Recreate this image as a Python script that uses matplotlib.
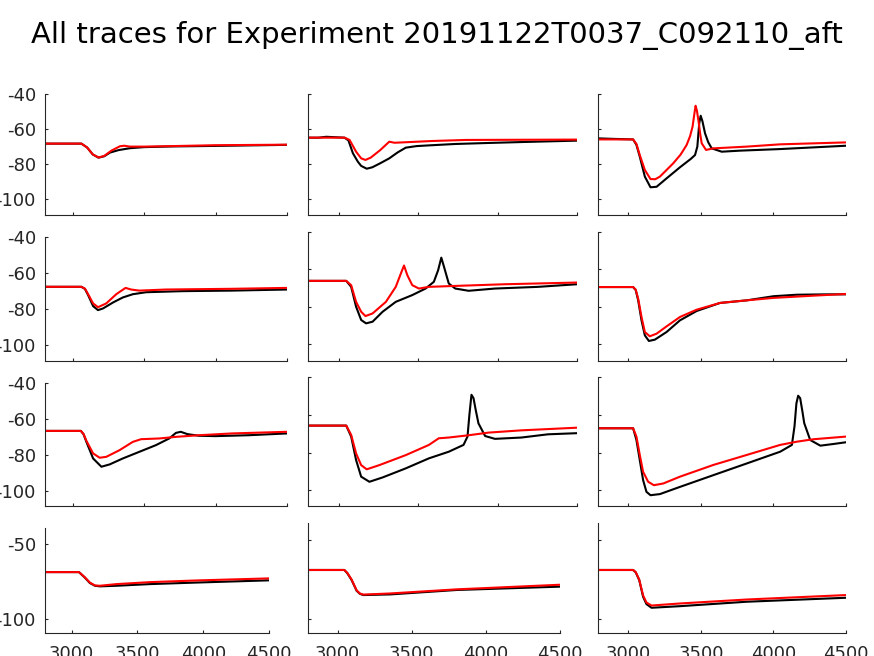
import matplotlib
matplotlib.use("Agg")
import matplotlib.pyplot as plt

TITLE = "All traces for Experiment 20191122T0037_C092110_aft"
XTICKS = [3000, 3500, 4000, 4500]
YTICKS_TOP = [-100, -80, -60, -40]
YTICKS_BOTTOM = [-100, -50]

# ---- traces (time, membrane potential) ----
# row 1
t_r1c1_k = [2805, 3060, 3100, 3140, 3180, 3220, 3260, 3320, 3400, 3500, 3700, 4000, 4500]
v_r1c1_k = [-68.3, -68.3, -70.5, -74.5, -76.3, -75.5, -73.4, -72.0, -70.9, -70.3, -69.9, -69.6, -69.0]
t_r1c1_r = [2805, 3060, 3100, 3140, 3180, 3220, 3270, 3330, 3360, 3400, 3500, 3700, 4000, 4500]
v_r1c1_r = [-68.3, -68.3, -70.5, -74.5, -76.2, -75.3, -72.3, -69.8, -69.5, -70.0, -70.0, -69.7, -69.2, -68.9]

t_r1c2_k = [2805, 2870, 2920, 3035, 3060, 3088, 3119, 3140, 3175, 3210, 3260, 3317, 3370, 3421, 3490, 3567, 3733, 3950, 4150, 4500]
v_r1c2_k = [-64.9, -64.9, -64.4, -64.9, -66.5, -73.8, -78.6, -81.0, -82.6, -81.8, -79.5, -76.7, -73.3, -70.6, -69.7, -69.3, -68.5, -67.9, -67.4, -66.6]
t_r1c2_r = [2805, 3035, 3067, 3108, 3140, 3167, 3200, 3260, 3317, 3350, 3400, 3587, 3800, 4500]
v_r1c2_r = [-64.9, -64.9, -66.2, -72.9, -76.7, -77.6, -76.3, -72.0, -67.2, -67.8, -67.6, -66.8, -66.2, -66.0]

t_r1c3_k = [2790, 2900, 3032, 3055, 3078, 3113, 3152, 3194, 3263, 3355, 3430, 3459, 3475, 3488, 3498, 3510, 3528, 3550, 3574, 3643, 3770, 4046, 4500]
v_r1c3_k = [-65.3, -65.6, -65.9, -69.0, -75.7, -87.1, -93.2, -92.9, -88.1, -81.8, -77.0, -74.8, -70.0, -56.7, -52.4, -55.5, -62.4, -67.5, -71.0, -72.9, -72.3, -71.4, -69.5]
t_r1c3_r = [2790, 3032, 3055, 3078, 3113, 3152, 3185, 3217, 3309, 3360, 3401, 3425, 3442, 3455, 3463, 3472, 3482, 3495, 3505, 3535, 3585, 3816, 4046, 4500]
v_r1c3_r = [-65.9, -65.9, -68.5, -74.8, -83.3, -88.5, -88.6, -87.1, -79.5, -74.5, -69.1, -64.0, -58.6, -51.0, -46.7, -49.5, -54.8, -63.0, -68.1, -71.9, -71.0, -70.0, -68.7, -67.6]

# row 2
t_r2c1_k = [2805, 3060, 3085, 3107, 3142, 3176, 3211, 3281, 3350, 3420, 3513, 3768, 4116, 4500]
v_r2c1_k = [-67.6, -67.6, -68.8, -72.2, -78.3, -80.5, -79.6, -76.3, -73.5, -71.7, -70.6, -70.0, -69.7, -69.1]
t_r2c1_r = [2805, 3060, 3085, 3107, 3142, 3176, 3234, 3304, 3369, 3408, 3466, 3652, 4116, 4500]
v_r2c1_r = [-67.6, -67.6, -68.6, -71.7, -76.8, -78.9, -76.8, -71.7, -68.2, -69.1, -69.7, -69.1, -68.7, -68.2]

t_r2c2_k = [2805, 3046, 3077, 3108, 3140, 3171, 3212, 3275, 3358, 3462, 3546, 3598, 3625, 3645, 3662, 3692, 3733, 3817, 3983, 4254, 4500]
v_r2c2_k = [-66.1, -66.1, -69.3, -79.9, -87.0, -88.8, -87.9, -82.6, -77.3, -73.7, -70.2, -66.6, -60.4, -53.7, -58.6, -67.5, -70.2, -71.4, -70.2, -69.3, -67.9]
t_r2c2_r = [2805, 3046, 3077, 3108, 3140, 3167, 3212, 3296, 3358, 3390, 3410, 3431, 3462, 3504, 3567, 3733, 4046, 4500]
v_r2c2_r = [-66.1, -66.1, -68.4, -77.3, -82.6, -84.9, -83.5, -77.3, -69.3, -62.2, -57.9, -63.1, -68.4, -70.2, -69.3, -68.8, -67.9, -67.0]

t_r2c3_k = [2790, 3032, 3050, 3067, 3090, 3113, 3141, 3182, 3263, 3355, 3470, 3631, 3816, 4000, 4161, 4369, 4500]
v_r2c3_k = [-69.4, -69.4, -71.0, -76.5, -87.2, -95.2, -98.2, -97.5, -93.4, -87.2, -82.2, -77.9, -76.5, -74.3, -73.5, -73.3, -73.3]
t_r2c3_r = [2790, 3032, 3050, 3067, 3090, 3113, 3147, 3194, 3263, 3355, 3470, 3631, 3816, 4000, 4276, 4500]
v_r2c3_r = [-69.4, -69.4, -70.8, -75.6, -85.4, -93.4, -95.7, -94.3, -90.4, -85.4, -81.5, -77.9, -76.5, -75.2, -74.0, -73.1]

# row 3
t_r3c1_k = [2805, 3056, 3075, 3095, 3142, 3200, 3258, 3350, 3466, 3582, 3675, 3722, 3756, 3803, 3884, 4000, 4232, 4500]
v_r3c1_k = [-66.6, -66.6, -68.5, -72.7, -81.9, -86.5, -85.2, -81.9, -78.2, -74.5, -70.8, -67.7, -67.1, -68.4, -69.3, -69.5, -69.0, -68.0]
t_r3c1_r = [2805, 3056, 3075, 3095, 3142, 3188, 3234, 3327, 3420, 3478, 3606, 3722, 3884, 4116, 4500]
v_r3c1_r = [-66.6, -66.6, -68.3, -72.1, -79.1, -81.5, -81.0, -77.3, -72.7, -71.2, -70.8, -69.9, -69.0, -68.0, -67.1]

t_r3c2_k = [2805, 3046, 3077, 3108, 3140, 3192, 3275, 3421, 3567, 3692, 3785, 3810, 3822, 3835, 3848, 3862, 3879, 3921, 3983, 4150, 4317, 4500]
v_r3c2_k = [-65.7, -65.7, -71.5, -83.9, -92.7, -95.4, -93.1, -88.3, -83.0, -79.5, -75.9, -71.5, -60.0, -49.4, -51.2, -57.5, -64.5, -71.2, -72.7, -72.0, -70.3, -69.7]
t_r3c2_r = [2805, 3046, 3077, 3108, 3140, 3175, 3254, 3421, 3567, 3629, 3692, 3817, 3942, 4150, 4500]
v_r3c2_r = [-65.7, -65.7, -70.6, -80.4, -86.6, -88.8, -86.6, -81.3, -75.9, -72.4, -72.0, -70.8, -69.4, -68.2, -66.8]

t_r3c3_k = [2790, 3032, 3055, 3078, 3101, 3124, 3152, 3217, 3355, 3585, 3816, 4046, 4127, 4145, 4158, 4170, 4184, 4200, 4212, 4253, 4323, 4415, 4500]
v_r3c3_k = [-67.1, -67.1, -73.3, -83.9, -94.5, -100.7, -102.5, -101.9, -98.1, -91.9, -85.7, -79.5, -75.9, -66.0, -54.0, -49.9, -51.2, -58.5, -64.4, -73.3, -76.3, -75.4, -74.5]
t_r3c3_r = [2790, 3032, 3055, 3078, 3101, 3136, 3175, 3240, 3355, 3585, 3816, 4046, 4161, 4276, 4500]
v_r3c3_r = [-67.1, -67.1, -71.5, -81.2, -90.1, -95.4, -97.2, -96.3, -92.7, -86.5, -81.2, -75.9, -74.2, -72.9, -71.5]

# row 4
t_r4c1_k = [2798, 3056, 3100, 3139, 3177, 3215, 3342, 3594, 3974, 4500]
v_r4c1_k = [-68.9, -68.9, -72.5, -76.2, -78.0, -78.4, -78.0, -76.9, -75.8, -74.4]
t_r4c1_r = [2798, 3056, 3100, 3139, 3177, 3215, 3342, 3594, 3974, 4500]
v_r4c1_r = [-68.9, -68.9, -72.3, -75.9, -77.8, -78.0, -76.9, -75.6, -74.4, -73.1]

t_r4c2_k = [2800, 3045, 3065, 3094, 3128, 3150, 3173, 3353, 3803, 4500]
v_r4c2_k = [-69.0, -69.0, -71.0, -75.3, -82.1, -84.0, -84.8, -84.4, -81.6, -79.5]
t_r4c2_r = [2800, 3045, 3065, 3094, 3128, 3150, 3173, 3353, 3803, 4500]
v_r4c2_r = [-69.0, -69.0, -70.8, -75.0, -81.8, -83.8, -84.5, -83.8, -81.2, -78.3]

t_r4c3_k = [2790, 3032, 3050, 3074, 3101, 3124, 3159, 3355, 3816, 4500]
v_r4c3_k = [-69.0, -69.0, -70.5, -75.3, -85.9, -90.5, -92.8, -91.8, -89.0, -86.5]
t_r4c3_r = [2790, 3032, 3050, 3074, 3101, 3124, 3159, 3355, 3816, 4500]
v_r4c3_r = [-69.0, -69.0, -70.3, -75.0, -85.0, -89.5, -91.4, -90.1, -87.6, -84.8]

traces = [
    [(t_r1c1_k, v_r1c1_k, t_r1c1_r, v_r1c1_r), (t_r1c2_k, v_r1c2_k, t_r1c2_r, v_r1c2_r), (t_r1c3_k, v_r1c3_k, t_r1c3_r, v_r1c3_r)],
    [(t_r2c1_k, v_r2c1_k, t_r2c1_r, v_r2c1_r), (t_r2c2_k, v_r2c2_k, t_r2c2_r, v_r2c2_r), (t_r2c3_k, v_r2c3_k, t_r2c3_r, v_r2c3_r)],
    [(t_r3c1_k, v_r3c1_k, t_r3c1_r, v_r3c1_r), (t_r3c2_k, v_r3c2_k, t_r3c2_r, v_r3c2_r), (t_r3c3_k, v_r3c3_k, t_r3c3_r, v_r3c3_r)],
    [(t_r4c1_k, v_r4c1_k, t_r4c1_r, v_r4c1_r), (t_r4c2_k, v_r4c2_k, t_r4c2_r, v_r4c2_r), (t_r4c3_k, v_r4c3_k, t_r4c3_r, v_r4c3_r)],
]

# axes boxes in pixels: left, top, right, bottom
W, H = 874, 656
boxes = [
    [(45, 94, 287, 215), (308, 94, 577, 215), (598, 94, 846, 215)],
    [(45, 237, 287, 361), (308, 232, 577, 361), (598, 232, 846, 361)],
    [(45, 383, 287, 506), (308, 377, 577, 506), (598, 377, 846, 506)],
    [(45, 528, 269, 633), (308, 523, 560, 633), (598, 523, 846, 633)],
]
xlims = [
    [(2805, 4500), (2805, 4500), (2790, 4500)],
    [(2805, 4500), (2805, 4500), (2790, 4500)],
    [(2805, 4500), (2805, 4500), (2790, 4500)],
    [(2798, 4500), (2800, 4500), (2790, 4500)],
]
ylims = [
    [(-109, -40)] * 3,
    [(-108.7, -40), (-108.9, -40), (-108.9, -40)],
    [(-108.3, -40), (-108.2, -40), (-108.2, -40)],
    [(-109.5, -39.5), (-108.7, -39.4), (-108.7, -39.4)],
]

AX_COLOR = "#262626"
plt.rcParams["font.family"] = "DejaVu Sans"
plt.rcParams["axes.unicode_minus"] = False  # plain hyphen like the original

fig = plt.figure(figsize=(W / 100, H / 100), dpi=100)
fig.text(0.5, 1 - 35 / H, TITLE, ha="center", va="center", fontsize=21, color="black")

for r in range(4):
    for c in range(3):
        l, t, rr, b = boxes[r][c]
        ax = fig.add_axes([l / W, 1 - b / H, (rr - l) / W, (b - t) / H])
        tk, vk, tr, vr = traces[r][c]
        ax.plot(tk, vk, color="black", lw=1.5)
        ax.plot(tr, vr, color="red", lw=1.5)
        ax.set_xlim(*xlims[r][c])
        ax.set_ylim(*ylims[r][c])
        ax.set_xticks(XTICKS)
        ax.set_yticks(YTICKS_BOTTOM if r == 3 else YTICKS_TOP)
        for side in ("top", "right"):
            ax.spines[side].set_visible(False)
        for side in ("left", "bottom"):
            ax.spines[side].set_color(AX_COLOR)
            ax.spines[side].set_linewidth(0.8)
        ax.tick_params(direction="in", length=2.5, width=0.8, color=AX_COLOR,
                       labelcolor=AX_COLOR, labelsize=13)
        ax.tick_params(axis="y", pad=6.5)
        ax.tick_params(axis="x", pad=8.5)
        if c != 0:
            ax.set_yticklabels([])
        if r != 3:
            ax.set_xticklabels([])

fig.savefig("out.png", dpi=100)
